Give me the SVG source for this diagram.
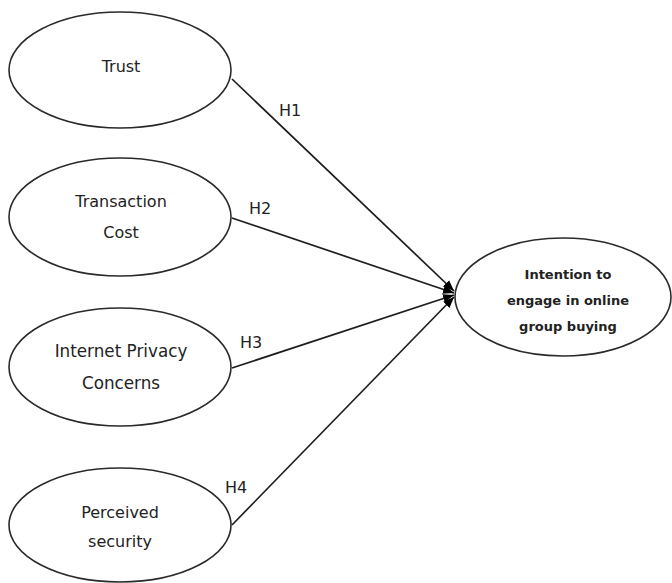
<svg xmlns="http://www.w3.org/2000/svg" width="672" height="583" viewBox="0 0 672 583">
<style>
.node ellipse{fill:#fff;stroke:#2a2a2a;stroke-width:1.6}
.lbl{font-family:"DejaVu Sans",sans-serif;font-size:16px;fill:#222;text-anchor:middle}
.dv{font-family:"DejaVu Sans",sans-serif;font-size:13px;font-weight:bold;fill:#222;text-anchor:middle}
.h{font-family:"DejaVu Sans",sans-serif;font-size:16px;fill:#222;text-anchor:middle}
#connectors line{stroke:#1e1e1e;stroke-width:1.7;marker-end:url(#ah)}
</style>
<defs>
<marker id="ah" viewBox="0 0 10 10" refX="10" refY="5" markerWidth="11" markerHeight="11" orient="auto" markerUnits="userSpaceOnUse">
<path d="M0,1 L10,5 L0,9 z" fill="#000"/>
</marker>
</defs>
<rect width="672" height="583" fill="#fff"/>
<g id="connectors">
<line x1="232" y1="79" x2="454" y2="291"/>
<line x1="232" y1="218" x2="454" y2="293"/>
<line x1="232" y1="368" x2="454" y2="295"/>
<line x1="232" y1="525" x2="454" y2="297"/>
<text class="h" x="290" y="116">H1</text>
<text class="h" x="260" y="214">H2</text>
<text class="h" x="251" y="348">H3</text>
<text class="h" x="236" y="493">H4</text>
</g>
<g id="trust" class="node">
<ellipse cx="120" cy="70" rx="111" ry="58"/>
<text class="lbl" x="121" y="72">Trust</text>
</g>
<g id="transaction-cost" class="node">
<ellipse cx="120" cy="217" rx="111" ry="59"/>
<text class="lbl" x="121" y="207">Transaction</text>
<text class="lbl" x="121" y="238">Cost</text>
</g>
<g id="internet-privacy" class="node">
<ellipse cx="120" cy="367" rx="111" ry="59"/>
<text class="lbl" x="121" y="357" style="font-size:16.8px">Internet Privacy</text>
<text class="lbl" x="121" y="389" style="font-size:16.8px">Concerns</text>
</g>
<g id="perceived-security" class="node">
<ellipse cx="120" cy="525" rx="111" ry="57"/>
<text class="lbl" x="120" y="518">Perceived</text>
<text class="lbl" x="120" y="547">security</text>
</g>
<g id="intention" class="node">
<ellipse cx="563" cy="297" rx="108" ry="59"/>
<text class="dv" x="568" y="279">Intention to</text>
<text class="dv" x="568" y="305">engage in online</text>
<text class="dv" x="568" y="331">group buying</text>
</g>
</svg>
